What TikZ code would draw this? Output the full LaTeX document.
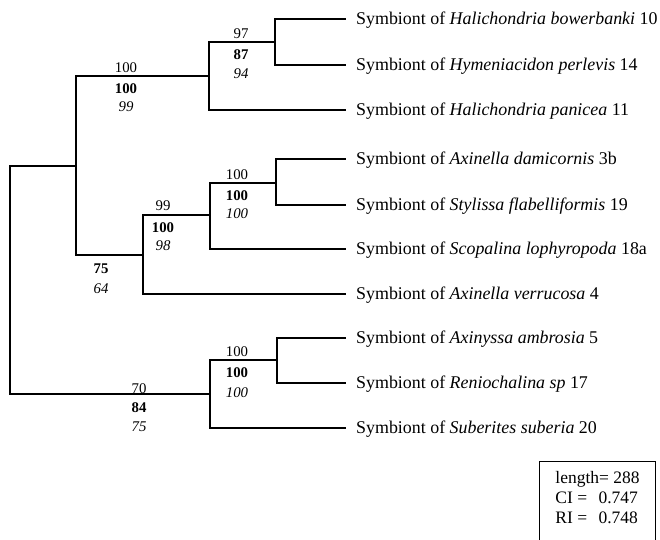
\documentclass[tikz,border=0pt]{standalone}
\usepackage{fontspec}
\setmainfont{Liberation Serif}
\usetikzlibrary{positioning}

\begin{document}
\begin{tikzpicture}[
  x=1pt, y=-1pt,
  branch/.style={line width=1.1pt, black},
  taxon/.style={anchor=west, inner xsep=10pt, inner ysep=0pt, text height=11.8pt, text depth=0pt, font=\fontsize{17.9}{20}\selectfont},
  supp/.style={anchor=base, inner sep=0pt, font=\fontsize{14.8}{18}\selectfont},
  stats/.style={draw, line width=1pt, anchor=north west, align=left, minimum width=116pt, inner xsep=11pt, inner ysep=10pt, text depth=14pt, font=\fontsize{17.5}{20}\selectfont}
]
  \useasboundingbox (0,0) rectangle (660,539);

  % internal nodes of the tree
  \coordinate (root) at (10,280);
  \coordinate (nF) at (76,166);
  \coordinate (nB) at (209,76);
  \coordinate (nA) at (275,42);
  \coordinate (nE) at (143,255);
  \coordinate (nD) at (210,215);
  \coordinate (nC) at (276,183);
  \coordinate (nG) at (210,394);
  \coordinate (nH) at (277,360);

  % terminal taxa
  \node[taxon] (l1) at (346,19) {Symbiont of \textit{Halichondria bowerbanki} 10};
  \node[taxon] (l2) at (346,65) {Symbiont of \textit{Hymeniacidon perlevis} 14};
  \node[taxon] (l3) at (346,110) {Symbiont of \textit{Halichondria panicea} 11};
  \node[taxon] (l4) at (346,159) {Symbiont of \textit{Axinella damicornis} 3b};
  \node[taxon] (l5) at (346,205) {Symbiont of \textit{Stylissa flabelliformis} 19};
  \node[taxon] (l6) at (346,249) {Symbiont of \textit{Scopalina lophyropoda} 18a};
  \node[taxon] (l7) at (346,294) {Symbiont of \textit{Axinella verrucosa} 4};
  \node[taxon] (l8) at (346,338) {Symbiont of \textit{Axinyssa ambrosia} 5};
  \node[taxon] (l9) at (346,383) {Symbiont of \textit{Reniochalina sp} 17};
  \node[taxon] (l10) at (346,428) {Symbiont of \textit{Suberites suberia} 20};

  % branches
  \draw[branch] (root) |- (nF);
  \draw[branch] (root) |- (nG);
  \draw[branch] (nF) |- (nB);
  \draw[branch] (nF) |- (nE);
  \draw[branch] (nB) |- (nA);
  \draw[branch] (nB) |- (l3);
  \draw[branch] (nA) |- (l1);
  \draw[branch] (nA) |- (l2);
  \draw[branch] (nE) |- (nD);
  \draw[branch] (nE) |- (l7);
  \draw[branch] (nD) |- (nC);
  \draw[branch] (nD) |- (l6);
  \draw[branch] (nC) |- (l4);
  \draw[branch] (nC) |- (l5);
  \draw[branch] (nG) |- (nH);
  \draw[branch] (nG) |- (l10);
  \draw[branch] (nH) |- (l8);
  \draw[branch] (nH) |- (l9);

  % support values
  \node[supp] (tA) at (241,38) {97};
  \node[supp] (bA) at (241,59) {\textbf{87}};
  \node[supp] (iA) at (241,78) {\textit{94}};
  \node[supp] (tB) at (126,72) {100};
  \node[supp] (bB) at (126,93) {\textbf{100}};
  \node[supp] (iB) at (126,111) {\textit{99}};
  \node[supp] (tC) at (237,179) {100};
  \node[supp] (bC) at (237,200) {\textbf{100}};
  \node[supp] (iC) at (237,218) {\textit{100}};
  \node[supp] (tD) at (163,210) {99};
  \node[supp] (bD) at (163,232) {\textbf{100}};
  \node[supp] (iD) at (163,250) {\textit{98}};
  \node[supp] (bE) at (101,273) {\textbf{75}};
  \node[supp] (iE) at (101,293) {\textit{64}};
  \node[supp] (tG) at (139,393) {70};
  \node[supp] (bG) at (139,412) {\textbf{84}};
  \node[supp] (iG) at (139,431) {\textit{75}};
  \node[supp] (tH) at (237,356) {100};
  \node[supp] (bH) at (237,377) {\textbf{100}};
  \node[supp] (iH) at (237,397) {\textit{100}};

  % tree statistics
  \node[stats] (stats) at (539,461) {length= 288\\CI = \hspace{7pt}0.747\\RI = \hspace{7pt}0.748};
\end{tikzpicture}
\end{document}
